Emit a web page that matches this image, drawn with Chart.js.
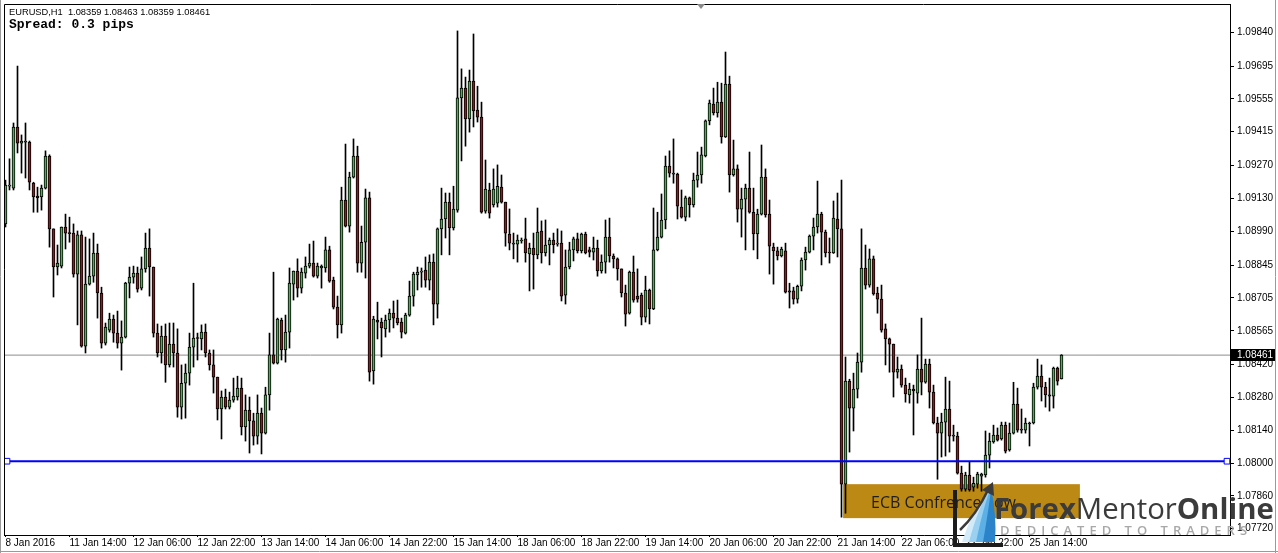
<!DOCTYPE html>
<html>
<head>
<meta charset="utf-8">
<title>EURUSD,H1</title>
<script src="https://cdn.jsdelivr.net/npm/chart.js@4.4.1/dist/chart.umd.min.js"></script>
<style>
    html, body { margin: 0; padding: 0; background: #ffffff; }
    #wrap { width: 1278px; height: 553px; }
</style>
</head>
<body>
<div id="wrap"><canvas id="priceChart" width="1278" height="553"></canvas></div>
<script>
// EURUSD H1 bars, 8 Jan 2016 22:00 -> 25 Jan 2016
const opens = [
    1.09021,1.09182,1.09174,1.09435,1.09366,1.09375,1.09370,1.09195,1.09140,1.09136,
    1.09174,1.09311,1.09000,1.08837,1.08841,1.09008,1.08982,1.08982,1.08807,1.08974,
    1.08499,1.08764,1.08798,1.08897,1.08726,1.08512,1.08568,1.08615,1.08555,1.08512,
    1.08538,1.08768,1.08794,1.08811,1.08747,1.08829,1.08918,1.08837,1.08555,1.08470,
    1.08542,1.08419,1.08508,1.08470,1.08239,1.08341,1.08384,1.08495,1.08534,1.08530,
    1.08559,1.08470,1.08419,1.08367,1.08231,1.08282,1.08239,1.08269,1.08282,1.08320,
    1.08154,1.08226,1.08180,1.08115,1.08213,1.08128,1.08291,1.08462,1.08427,1.08611,
    1.08483,1.08559,1.08764,1.08820,1.08747,1.08811,1.08841,1.08854,1.08798,1.08833,
    1.08833,1.08910,1.08781,1.08666,1.08590,1.09123,1.09012,1.09221,1.09311,1.08854,
    1.08943,1.09132,1.08393,1.08611,1.08602,1.08573,1.08611,1.08640,1.08619,1.08602,
    1.08555,1.08632,1.08713,1.08803,1.08815,1.08824,1.08781,1.08858,1.08679,1.09000,
    1.09042,1.09114,1.09004,1.09080,1.09559,1.09601,1.09469,1.09631,1.09507,1.09477,
    1.09076,1.09166,1.09102,1.09110,1.09178,1.09114,1.08978,1.08939,1.08935,1.08948,
    1.08957,1.08893,1.08918,1.08889,1.08991,1.08897,1.08931,1.08952,1.08935,1.08939,
    1.08717,1.08837,1.08910,1.08957,1.08906,1.08978,1.08910,1.08901,1.08918,1.08820,
    1.08858,1.08965,1.08884,1.08872,1.08829,1.08726,1.08640,1.08815,1.08713,1.08717,
    1.08623,1.08739,1.08658,1.08910,1.08965,1.09038,1.09268,1.09238,1.09234,1.09093,
    1.09050,1.09132,1.09102,1.09208,1.09230,1.09311,1.09461,1.09533,1.09495,1.09541,
    1.09392,1.09618,1.09230,1.09256,1.09084,1.09127,1.09174,1.09071,1.08978,1.09063,
    1.09221,1.09063,1.08922,1.08906,1.08884,1.08906,1.08735,1.08735,1.08700,1.08755,
    1.08867,1.08901,1.08969,1.09008,1.09063,1.08986,1.08901,1.08897,1.09042,1.09000,
    1.07910,1.08350,1.08235,1.08316,1.08431,1.08833,1.08760,1.08872,1.08726,1.08700,
    1.08573,1.08530,1.08508,1.08388,1.08401,1.08333,1.08291,1.08316,1.08299,1.08401,
    1.08345,1.08423,1.08303,1.08171,1.08128,1.08175,1.08231,1.08120,1.08115,1.07957,
    1.07889,1.07949,1.07897,1.07910,1.07944,1.07949,1.08034,1.08090,1.08120,1.08103,
    1.08162,1.08056,1.08128,1.08252,1.08145,1.08141,1.08171,1.08171,1.08324,1.08371,
    1.08324,1.08291,1.08286,1.08406,1.08359
];
const highs = [
    1.09208,1.09299,1.09452,1.09695,1.09401,1.09452,1.09375,1.09199,1.09178,1.09187,
    1.09333,1.09316,1.09000,1.08931,1.09008,1.09063,1.09050,1.09021,1.08991,1.08991,
    1.08965,1.08957,1.08982,1.08935,1.08751,1.08598,1.08640,1.08632,1.08649,1.08607,
    1.08772,1.08837,1.08841,1.08837,1.08880,1.08982,1.09000,1.08837,1.08594,1.08585,
    1.08594,1.08598,1.08598,1.08573,1.08419,1.08423,1.08555,1.08768,1.08555,1.08590,
    1.08594,1.08483,1.08483,1.08367,1.08308,1.08316,1.08303,1.08363,1.08371,1.08363,
    1.08291,1.08282,1.08213,1.08291,1.08235,1.08324,1.08555,1.08815,1.08619,1.08619,
    1.08632,1.08833,1.08820,1.08872,1.08833,1.08880,1.08935,1.08948,1.08854,1.08846,
    1.08965,1.08926,1.08794,1.08713,1.09178,1.09362,1.09242,1.09384,1.09353,1.09012,
    1.09170,1.09157,1.08627,1.08687,1.08619,1.08632,1.08658,1.08692,1.08696,1.08619,
    1.08640,1.08777,1.08815,1.08837,1.08833,1.08880,1.08889,1.08893,1.09004,1.09174,
    1.09153,1.09153,1.09182,1.09845,1.09683,1.09648,1.09678,1.09832,1.09609,1.09541,
    1.09294,1.09195,1.09256,1.09273,1.09230,1.09114,1.09085,1.08982,1.08974,1.08961,
    1.09046,1.08939,1.08982,1.09089,1.09034,1.09038,1.08961,1.08982,1.09000,1.08991,
    1.08910,1.08943,1.08965,1.08982,1.08982,1.08986,1.08922,1.08965,1.08952,1.08889,
    1.09038,1.09046,1.08893,1.08876,1.08829,1.08760,1.08820,1.08884,1.08829,1.08726,
    1.08798,1.08743,1.09089,1.09071,1.09149,1.09311,1.09333,1.09384,1.09238,1.09166,
    1.09140,1.09136,1.09238,1.09328,1.09349,1.09465,1.09550,1.09601,1.09626,1.09622,
    1.09755,1.09652,1.09379,1.09273,1.09174,1.09191,1.09328,1.09174,1.09084,1.09358,
    1.09256,1.09123,1.08939,1.08922,1.08922,1.08939,1.08768,1.08751,1.08760,1.08876,
    1.08922,1.08974,1.09046,1.09204,1.09071,1.08995,1.08961,1.09119,1.09153,1.09208,
    1.08453,1.08358,1.08384,1.08470,1.09000,1.08931,1.08914,1.08884,1.08751,1.08760,
    1.08594,1.08534,1.08508,1.08453,1.08419,1.08363,1.08341,1.08333,1.08462,1.08619,
    1.08444,1.08444,1.08333,1.08196,1.08213,1.08367,1.08350,1.08162,1.08132,1.07987,
    1.07961,1.08004,1.07940,1.07961,1.07957,1.08137,1.08128,1.08162,1.08150,1.08175,
    1.08175,1.08171,1.08345,1.08320,1.08231,1.08192,1.08175,1.08341,1.08444,1.08419,
    1.08345,1.08363,1.08410,1.08410,1.08463
];
const lows = [
    1.09008,1.09166,1.09166,1.09324,1.09238,1.09217,1.09166,1.09071,1.09071,1.09080,
    1.09170,1.08922,1.08709,1.08803,1.08833,1.08914,1.08943,1.08794,1.08590,1.08495,
    1.08470,1.08760,1.08772,1.08619,1.08491,1.08504,1.08559,1.08516,1.08491,1.08397,
    1.08534,1.08705,1.08768,1.08730,1.08739,1.08815,1.08713,1.08538,1.08453,1.08427,
    1.08345,1.08410,1.08410,1.08196,1.08188,1.08192,1.08333,1.08410,1.08440,1.08483,
    1.08453,1.08397,1.08299,1.08184,1.08103,1.08231,1.08231,1.08260,1.08269,1.08120,
    1.08094,1.08043,1.08077,1.08081,1.08039,1.08124,1.08226,1.08423,1.08423,1.08440,
    1.08431,1.08491,1.08696,1.08709,1.08726,1.08790,1.08833,1.08794,1.08790,1.08747,
    1.08815,1.08772,1.08658,1.08534,1.08555,1.09008,1.08986,1.09217,1.08815,1.08815,
    1.08790,1.08350,1.08337,1.08530,1.08453,1.08538,1.08559,1.08577,1.08590,1.08534,
    1.08551,1.08627,1.08670,1.08739,1.08751,1.08751,1.08739,1.08590,1.08619,1.08889,
    1.08961,1.08889,1.08995,1.09071,1.09290,1.09353,1.09413,1.09435,1.09456,1.09067,
    1.09067,1.09046,1.09093,1.09093,1.09110,1.08926,1.08910,1.08872,1.08858,1.08939,
    1.08858,1.08735,1.08743,1.08872,1.08854,1.08884,1.08846,1.08897,1.08926,1.08692,
    1.08679,1.08829,1.08863,1.08897,1.08897,1.08893,1.08880,1.08867,1.08798,1.08811,
    1.08811,1.08858,1.08833,1.08781,1.08709,1.08585,1.08636,1.08687,1.08687,1.08590,
    1.08602,1.08594,1.08655,1.08906,1.08961,1.09000,1.09221,1.09195,1.09042,1.09046,
    1.09034,1.09050,1.09093,1.09178,1.09195,1.09307,1.09444,1.09486,1.09477,1.09366,
    1.09390,1.09157,1.09225,1.09029,1.08965,1.08910,1.09067,1.08910,1.08872,1.09059,
    1.09050,1.08807,1.08764,1.08867,1.08880,1.08726,1.08662,1.08679,1.08683,1.08735,
    1.08824,1.08897,1.08910,1.08982,1.08846,1.08880,1.08854,1.08895,1.08880,1.07769,
    1.07786,1.08047,1.08137,1.08278,1.08388,1.08743,1.08751,1.08717,1.08640,1.08559,
    1.08419,1.08388,1.08282,1.08363,1.08324,1.08260,1.08256,1.08120,1.08256,1.08291,
    1.08341,1.08235,1.08167,1.07931,1.08026,1.08030,1.08047,1.08094,1.07953,1.07880,
    1.07880,1.07880,1.07880,1.07893,1.07880,1.07940,1.07979,1.08085,1.08094,1.08098,
    1.08043,1.08051,1.08124,1.08132,1.08128,1.08128,1.08073,1.08167,1.08316,1.08265,
    1.08239,1.08222,1.08235,1.08333,1.08359
];
const closes = [
    1.09187,1.09187,1.09435,1.09366,1.09375,1.09370,1.09199,1.09136,1.09132,1.09174,
    1.09311,1.09000,1.08837,1.08854,1.09008,1.08982,1.08980,1.08807,1.08974,1.08499,
    1.08764,1.08798,1.08897,1.08726,1.08512,1.08581,1.08615,1.08555,1.08512,1.08538,
    1.08768,1.08794,1.08811,1.08743,1.08829,1.08918,1.08837,1.08555,1.08470,1.08542,
    1.08419,1.08508,1.08470,1.08239,1.08341,1.08384,1.08495,1.08534,1.08532,1.08559,
    1.08470,1.08419,1.08367,1.08231,1.08282,1.08239,1.08269,1.08286,1.08320,1.08154,
    1.08226,1.08180,1.08115,1.08213,1.08128,1.08291,1.08462,1.08427,1.08615,1.08483,
    1.08559,1.08768,1.08820,1.08747,1.08815,1.08841,1.08854,1.08798,1.08841,1.08841,
    1.08910,1.08777,1.08666,1.08590,1.09123,1.09012,1.09221,1.09311,1.08854,1.08943,
    1.09132,1.08388,1.08615,1.08602,1.08577,1.08611,1.08640,1.08619,1.08598,1.08559,
    1.08632,1.08713,1.08807,1.08815,1.08818,1.08781,1.08858,1.08679,1.09000,1.09042,
    1.09114,1.09004,1.09084,1.09559,1.09601,1.09469,1.09631,1.09503,1.09477,1.09071,
    1.09170,1.09067,1.09170,1.09182,1.09114,1.08982,1.08939,1.08935,1.08952,1.08952,
    1.08897,1.08918,1.08889,1.08986,1.08897,1.08931,1.08952,1.08931,1.08939,1.08713,
    1.08837,1.08910,1.08957,1.08906,1.08978,1.08897,1.08901,1.08918,1.08820,1.08858,
    1.08965,1.08884,1.08872,1.08829,1.08726,1.08636,1.08815,1.08696,1.08700,1.08623,
    1.08739,1.08658,1.08910,1.08965,1.09038,1.09268,1.09238,1.09234,1.09097,1.09050,
    1.09132,1.09102,1.09208,1.09230,1.09316,1.09461,1.09537,1.09495,1.09541,1.09392,
    1.09618,1.09230,1.09256,1.09084,1.09127,1.09174,1.09071,1.08978,1.09063,1.09221,
    1.09059,1.08926,1.08906,1.08884,1.08914,1.08730,1.08730,1.08700,1.08755,1.08867,
    1.08901,1.08969,1.09008,1.09063,1.08986,1.08897,1.08897,1.09046,1.09000,1.07910,
    1.08350,1.08235,1.08316,1.08431,1.08833,1.08760,1.08872,1.08722,1.08700,1.08568,
    1.08530,1.08508,1.08388,1.08401,1.08333,1.08295,1.08316,1.08308,1.08401,1.08345,
    1.08423,1.08303,1.08171,1.08128,1.08175,1.08231,1.08115,1.08115,1.07957,1.07889,
    1.07949,1.07885,1.07914,1.07953,1.07953,1.08034,1.08094,1.08120,1.08098,1.08162,
    1.08051,1.08128,1.08252,1.08141,1.08141,1.08171,1.08167,1.08324,1.08371,1.08324,
    1.08291,1.08286,1.08406,1.08350,1.08461
];

// time axis: a label every 16 bars
const timeTickBars = [0, 16, 32, 48, 64, 80, 96, 112, 128, 144, 160, 176, 192, 208, 224, 240, 256];
const timeLabels = ['8 Jan 2016', '11 Jan 14:00', '12 Jan 06:00', '12 Jan 22:00', '13 Jan 14:00',
    '14 Jan 06:00', '14 Jan 22:00', '15 Jan 14:00', '18 Jan 06:00', '18 Jan 22:00', '19 Jan 14:00',
    '20 Jan 06:00', '20 Jan 22:00', '21 Jan 14:00', '22 Jan 06:00', '22 Jan 22:00', '25 Jan 14:00'];

// price axis labels as the terminal prints them
const priceTicks = [1.09840, 1.09695, 1.09555, 1.09415, 1.09270, 1.09130, 1.08990, 1.08845,
    1.08705, 1.08565, 1.08420, 1.08280, 1.08140, 1.08000, 1.07860, 1.07720];

// drawn objects
const supportLevel = 1.08008;
const ecbZone = { fromBar: 209.4, toBar: 268.6, high: 1.07910, low: 1.07765, label: 'ECB Confrence Low' };

const xMin = -0.375, xMax = 306.125;
const yMin = 1.07693, yMax = 1.09960;
const lastBar = closes.length - 1;
const axisFont = { family: '"Liberation Sans", Arial, sans-serif', size: 10 };

const bullColor = '#4caf50';
const bearColor = '#8b1e1e';
const bodyColors = closes.map((c, i) => c >= opens[i] ? bullColor : bearColor);

const mt4Decor = {
    id: 'mt4Decor',
    beforeDatasetsDraw(chart) {
        const { ctx, scales: { x, y } } = chart;
        // rectangle object sits behind the bars, like in the terminal
        const left = x.getPixelForValue(ecbZone.fromBar);
        const right = x.getPixelForValue(ecbZone.toBar);
        const top = y.getPixelForValue(ecbZone.high);
        const bottom = y.getPixelForValue(ecbZone.low);
        ctx.save();
        ctx.fillStyle = '#bd8915';
        ctx.fillRect(left, top, right - left, bottom - top);
        ctx.fillStyle = '#1e1e1e';
        ctx.font = '16px "Open Sans", sans-serif';
        ctx.textBaseline = 'middle';
        ctx.fillText(ecbZone.label, left + 28, (top + bottom) / 2 + 2);
        ctx.restore();
    },
    afterDraw(chart) {
        const { ctx, chartArea: area, scales: { y } } = chart;
        ctx.save();

        // window frame
        ctx.strokeStyle = '#9a9a9a';
        ctx.lineWidth = 1;
        ctx.beginPath();
        ctx.moveTo(0.5, 0); ctx.lineTo(0.5, 553);
        ctx.moveTo(1275.5, 0); ctx.lineTo(1275.5, 553);
        ctx.moveTo(0, 551.5); ctx.lineTo(1278, 551.5);
        ctx.stroke();

        // top and left edges of the chart box
        ctx.strokeStyle = '#000';
        ctx.beginPath();
        ctx.moveTo(area.left + 0.5, area.bottom);
        ctx.lineTo(area.left + 0.5, area.top + 0.5);
        ctx.lineTo(area.right, area.top + 0.5);
        ctx.stroke();

        // shift marker
        ctx.fillStyle = '#8a8a8a';
        ctx.beginPath();
        ctx.moveTo(697, 4); ctx.lineTo(705, 4); ctx.lineTo(701, 9);
        ctx.closePath();
        ctx.fill();

        // header
        ctx.fillStyle = '#000';
        ctx.textBaseline = 'middle';
        ctx.font = '9.3px "Liberation Sans", Arial, sans-serif';
        const ohlc = [opens[lastBar], highs[lastBar], lows[lastBar], closes[lastBar]].map(v => v.toFixed(5)).join(' ');
        ctx.fillText('EURUSD,H1  ' + ohlc, 9, 12);
        ctx.font = 'bold 13px "Liberation Mono", "Courier New", monospace';
        ctx.fillText('Spread: 0.3 pips', 9, 25);

        // bid price tag on the axis
        const py = Math.round(y.getPixelForValue(closes[lastBar]));
        ctx.fillStyle = '#000';
        ctx.fillRect(area.right + 1, py - 6, 44, 12);
        ctx.fillStyle = '#fff';
        ctx.font = '10px "Liberation Sans", Arial, sans-serif';
        ctx.fillText(closes[lastBar].toFixed(5), area.right + 7, py);

        // watermark logo
        ctx.fillStyle = '#1c1c1c';
        ctx.fillRect(953, 490, 4, 57);
        ctx.fillRect(953, 543, 50, 4);
        const blues = ['#d3ebf9', '#9bd0f1', '#5cb0e6', '#2b84c9'];
        blues.forEach((c, k) => {
            ctx.fillStyle = c;
            ctx.beginPath();
            ctx.moveTo(962 + k * 7, 542);
            ctx.quadraticCurveTo(972 + k * 6, 510 - k * 3, 991, 488);
            ctx.quadraticCurveTo(982 + k * 5, 516, 971 + k * 8, 542);
            ctx.closePath();
            ctx.fill();
        });
        ctx.strokeStyle = '#3a3a3a';
        ctx.lineWidth = 2.5;
        ctx.beginPath();
        ctx.moveTo(960, 530);
        ctx.quadraticCurveTo(976, 515, 988, 490);
        ctx.stroke();
        ctx.fillStyle = '#3a3a3a';
        ctx.beginPath();
        ctx.moveTo(993, 482); ctx.lineTo(994, 496); ctx.lineTo(982, 490);
        ctx.closePath();
        ctx.fill();

        const parts = [['Forex', '700'], ['Mentor', '400'], ['Online', '700']];
        let size = 30;
        const widthAt = s => parts.reduce((w, p) => {
            ctx.font = p[1] + ' ' + s + 'px "Open Sans", sans-serif';
            return w + ctx.measureText(p[0]).width;
        }, 0);
        size = size * 280 / widthAt(size);
        let tx = 994;
        ctx.fillStyle = '#3b3b3b';
        ctx.textBaseline = 'alphabetic';
        parts.forEach(p => {
            ctx.font = p[1] + ' ' + size + 'px "Open Sans", sans-serif';
            ctx.fillText(p[0], tx, 519);
            tx += ctx.measureText(p[0]).width;
        });
        ctx.fillStyle = '#a8a8a8';
        ctx.font = '600 13px "Open Sans", sans-serif';
        ctx.letterSpacing = '5px';
        ctx.fillText('DEDICATED TO TRADERS', 1000, 535);
        ctx.restore();
    }
};

const ctx = document.getElementById('priceChart').getContext('2d');
const priceChart = new Chart(ctx, {
    type: 'bar',
    data: {
        datasets: [{
            label: 'Bid line',
            type: 'line',
            data: [{ x: xMin, y: closes[lastBar] }, { x: xMax, y: closes[lastBar] }],
            borderColor: '#8c8c8c',
            borderWidth: 1,
            pointRadius: 0,
            order: 5
        }, {
            label: 'Wicks',
            data: highs.map((h, i) => ({ x: i, y: [lows[i], h] })),
            backgroundColor: '#000',
            barThickness: 1,
            grouped: false,
            order: 4
        }, {
            label: 'Bodies',
            data: opens.map((o, i) => ({ x: i, y: [o, closes[i]] })),
            backgroundColor: bodyColors,
            borderColor: '#000',
            borderWidth: 1,
            borderSkipped: false,
            barThickness: 3,
            minBarLength: 1,
            grouped: false,
            order: 3
        }, {
            label: 'Support',
            type: 'line',
            data: [{ x: xMin, y: supportLevel }, { x: 0.375, y: supportLevel },
                   { x: 305.375, y: supportLevel }, { x: xMax, y: supportLevel }],
            borderColor: '#0000ff',
            borderWidth: 2,
            pointStyle: 'rect',
            pointRadius: [0, 4, 4, 0],
            pointBorderWidth: 1,
            pointBackgroundColor: '#ffffff',
            pointBorderColor: '#0000ff',
            order: 1
        }]
    },
    options: {
        responsive: false,
        animation: false,
        devicePixelRatio: 1,
        layout: { padding: { left: 4, top: 4, right: 0, bottom: 0 } },
        plugins: {
            legend: { display: false },
            tooltip: { enabled: false }
        },
        scales: {
            x: {
                type: 'linear',
                position: 'bottom',
                offset: false,
                min: xMin,
                max: xMax,
                bounds: 'data',
                afterBuildTicks: s => { s.ticks = timeTickBars.map(v => ({ value: v })); },
                afterFit: s => { s.height = 18; s.paddingLeft = 0; s.paddingRight = 0; },
                ticks: {
                    autoSkip: false,
                    maxRotation: 0,
                    minRotation: 0,
                    align: 'start',
                    padding: 0,
                    color: '#000',
                    font: axisFont,
                    callback: (v, i) => timeLabels[i]
                },
                grid: { offset: false, drawOnChartArea: false, drawTicks: true, tickLength: 2, color: '#000' },
                border: { display: true, color: '#000', width: 1 }
            },
            y: {
                type: 'linear',
                position: 'right',
                min: yMin,
                max: yMax,
                bounds: 'data',
                afterBuildTicks: s => { s.ticks = priceTicks.map(v => ({ value: v })); },
                afterFit: s => { s.width = 48; s.paddingTop = 0; s.paddingBottom = 0; },
                ticks: {
                    padding: 3,
                    color: '#000',
                    font: axisFont,
                    callback: v => v.toFixed(5)
                },
                grid: { drawOnChartArea: false, drawTicks: true, tickLength: 4, color: '#000' },
                border: { display: true, color: '#000', width: 1 }
            }
        }
    },
    plugins: [mt4Decor]
});
</script>
</body>
</html>
